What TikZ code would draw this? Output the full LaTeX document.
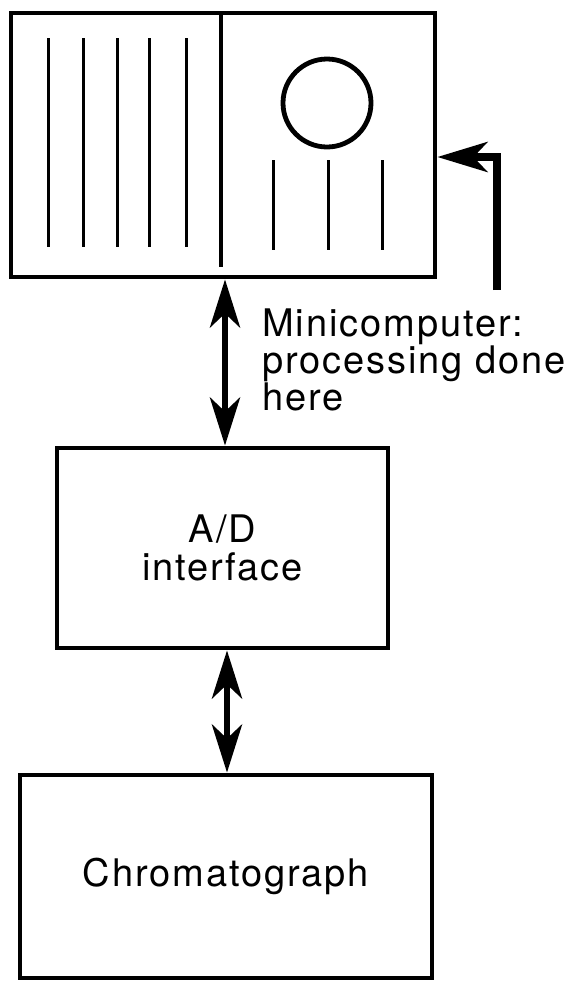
\documentclass[tikz,border=0pt]{standalone}
\usepackage{fontspec}
\setmainfont[LetterSpace=5]{TeX Gyre Heros}
\usepackage{tikz}
\usetikzlibrary{arrows.meta}
\usetikzlibrary{positioning}

\tikzset{
  unitbox/.style={draw, line width=2.4pt, inner sep=0pt, align=center,
    font=\fontsize{19}{19}\selectfont},
  panel/.style={line width=1.5pt},
  bigtip/.tip={Stealth[length=24pt,width=15pt,inset=7pt]},
  dbl/.style={line width=3.4pt, bigtip-bigtip}
}

\begin{document}
\begin{tikzpicture}[x=0.5pt,y=-0.5pt]
\useasboundingbox (0,0) rectangle (566,981);

% the three units
\node[unitbox, minimum width=212pt, minimum height=132pt] (mini) at (223,145) {};
\node[unitbox, minimum width=165.5pt, minimum height=100pt] (adc) at (222.5,548) {A/D\\interface};
\node[unitbox, minimum width=206pt, minimum height=101.5pt] (chrom) at (226,876.5) {Chromatograph};

% front of the minicomputer
\draw[line width=2.4pt] (221,13) -- (221,267);
\foreach \x in {48,83,117,149,186}
  \draw[panel] (\x,38) -- (\x,247);
\draw[line width=2.4pt] (327,103) circle (44);
\foreach \x in {273,328,382}
  \draw[panel] (\x,160) -- (\x,250);

% links
\draw[dbl] (mini.south -| 225,0) -- (adc.north -| 225,0);
\draw[dbl] (adc.south -| 227,0) -- (chrom.north -| 227,0);

% pointer to the minicomputer
\coordinate (feed) at (497,290);
\draw[line width=3.6pt, -{Stealth[length=25pt,width=15pt,inset=7pt]}]
  (feed) |- ([yshift=-6pt]mini.east);
\node[anchor=north west, inner sep=0pt, align=left,
  font=\fontsize{19}{18.5}\selectfont] (note) at (262,308)
  {Minicomputer:\\processing done\\here};

\end{tikzpicture}
\end{document}
